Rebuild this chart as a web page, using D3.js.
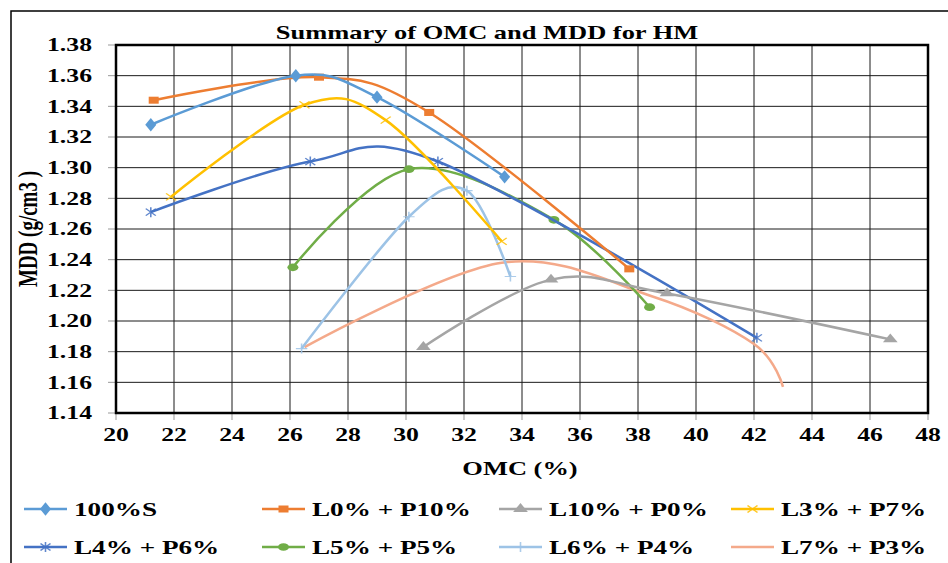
<!DOCTYPE html>
<html>
<head>
<meta charset="UTF-8">
<script src="https://cdn.jsdelivr.net/npm/d3@7/dist/d3.min.js"></script>
<style>
body{margin:0;background:#fff;}
text{font-family:"Liberation Serif","Times New Roman",serif;font-weight:bold;fill:#000;}
</style>
</head>
<body>
<script>

// values: [OMC %, MDD g/cm3]
var s100S  = [[21.2,1.328],[26.2,1.360],[29.0,1.346],[33.4,1.294]];
var sL0P10 = [[21.3,1.344],[27.0,1.359],[30.8,1.336],[37.7,1.234]];
var sL10P0 = [[30.6,1.183],[35.0,1.227],[39.0,1.218],[46.7,1.188]];
var sL3P7  = [[21.9,1.281],[26.5,1.341],[29.3,1.331],[33.3,1.252]];
var sL4P6  = [[21.2,1.271],[26.7,1.304],[31.1,1.304],[42.1,1.189]];
var sL5P5  = [[26.1,1.235],[30.1,1.299],[35.1,1.266],[38.4,1.209]];
var sL6P4  = [[26.4,1.182],[30.1,1.268],[32.1,1.285],[33.6,1.229]];
var sL7P3  = [[26.5,1.183],[33.3,1.238],[38.5,1.216],[42.0,1.185],[43.0,1.157]];

var seriesNames = ["100%S","L0% + P10%","L10% + P0%","L3% + P7%","L4% + P6%","L5% + P5%","L6% + P4%","L7% + P3%"];
var seriesData = [s100S, sL0P10, sL10P0, sL3P7, sL4P6, sL5P5, sL6P4, sL7P3];
var xTickValues = [20,22,24,26,28,30,32,34,36,38,40,42,44,46,48];
var yTickValues = [1.14,1.16,1.18,1.20,1.22,1.24,1.26,1.28,1.30,1.32,1.34,1.36,1.38];

var colors  = ["#5b9bd5","#ed7d31","#a5a5a5","#ffc000","#4472c4","#70ad47","#9dc3e6","#f4a98a"];
var markers = ["diamond","square","triangle","x","star","circle","plus","none"];

var width = 948, height = 563;
var pLeft = 116, pRight = 928, pTop = 45, pBottom = 413;
var sx = 1.43; // the picture is stretched sideways

var svg = d3.select("body").append("svg")
    .attr("width", width)
    .attr("height", height);

var x = d3.scaleLinear().domain([20, 48]).range([pLeft, pRight]);
var y = d3.scaleLinear().domain([1.14, 1.38]).range([pBottom, pTop]);

// outer chart frame
svg.append("rect")
    .attr("x", 11).attr("y", 11)
    .attr("width", 980).attr("height", 600)
    .attr("fill", "none").attr("stroke", "#000").attr("stroke-width", 1.5);

function txt(str, px, py, size, anchor, rot) {
    return svg.append("text")
        .attr("transform", "translate(" + px + "," + py + ") scale(" + sx + ",1)" + (rot ? " rotate(-90)" : ""))
        .attr("font-size", size)
        .attr("text-anchor", anchor)
        .text(str);
}

// grid
svg.append("g").selectAll("line")
    .data(xTickValues)
    .enter().append("line")
    .attr("x1", d => x(d)).attr("x2", d => x(d))
    .attr("y1", pTop).attr("y2", pBottom)
    .attr("stroke", "#1a1a1a").attr("stroke-width", 1);

svg.append("g").selectAll("line")
    .data(yTickValues)
    .enter().append("line")
    .attr("x1", pLeft).attr("x2", pRight)
    .attr("y1", d => y(d)).attr("y2", d => y(d))
    .attr("stroke", "#1a1a1a").attr("stroke-width", 1);

// tick marks
svg.append("g").selectAll("line")
    .data(yTickValues)
    .enter().append("line")
    .attr("x1", pLeft - 8).attr("x2", pLeft)
    .attr("y1", d => y(d)).attr("y2", d => y(d))
    .attr("stroke", "#999");

svg.append("g").selectAll("line")
    .data(xTickValues)
    .enter().append("line")
    .attr("x1", d => x(d)).attr("x2", d => x(d))
    .attr("y1", pBottom).attr("y2", pBottom + 7)
    .attr("stroke", "#999");

// plot frame
svg.append("rect")
    .attr("x", pLeft).attr("y", pTop)
    .attr("width", pRight - pLeft).attr("height", pBottom - pTop)
    .attr("fill", "none").attr("stroke", "#000").attr("stroke-width", 2.5);

// tick labels
yTickValues.forEach(function(v) {
    txt(d3.format(".2f")(v), 92, y(v), 18, "end").attr("dy", "0.35em");
});
xTickValues.forEach(function(v) {
    txt(v, x(v), 441, 18, "middle");
});

txt("Summary of OMC and MDD for HM", 487, 39, 18.5, "middle");
txt("OMC (%)", 520, 475, 18.5, "middle");
txt("MDD (g/cm3 )", 37, 229, 19, "middle", true);

function marker(g, type, color, px, py) {
    var tr = "translate(" + px + "," + py + ") scale(" + sx + ",1)";
    var sym = {diamond: [d3.symbolDiamond, 52], square: [d3.symbolSquare, 49],
               triangle: [d3.symbolTriangle, 46], circle: [d3.symbolCircle, 46]};
    if (sym[type]) {
        g.append("path")
            .attr("d", d3.symbol(sym[type][0], sym[type][1])())
            .attr("transform", tr)
            .attr("fill", color);
    } else if (type != "none") {
        var p = {x: "M-3.5,-3.5L3.5,3.5M-3.5,3.5L3.5,-3.5",
                 star: "M-3.5,-3.5L3.5,3.5M-3.5,3.5L3.5,-3.5M0,-5L0,5",
                 plus: "M-4,0L4,0M0,-5L0,5"}[type];
        g.append("path")
            .attr("d", p)
            .attr("transform", tr)
            .attr("fill", "none")
            .attr("stroke", color)
            .attr("stroke-width", 1.1)
            .attr("opacity", 0.85);
    }
}

var line = d3.line()
    .x(d => x(d[0]))
    .y(d => y(d[1]))
    .curve(d3.curveCardinal.tension(0));

var drawOrder = [7, 6, 5, 4, 3, 2, 1, 0];
drawOrder.forEach(function(i) {
    var g = svg.append("g");
    g.append("path")
        .attr("d", line(seriesData[i]))
        .attr("fill", "none")
        .attr("stroke", colors[i])
        .attr("stroke-width", 2.5);
    seriesData[i].forEach(function(d) {
        marker(g, markers[i], colors[i], x(d[0]), y(d[1]));
    });
});

// legend
var colX = [24, 262, 499, 731];
var rowY = [509, 547];
seriesNames.forEach(function(name, i) {
    var lx = colX[i % 4], ly = rowY[Math.floor(i / 4)];
    var g = svg.append("g");
    g.append("line")
        .attr("x1", lx).attr("x2", lx + 43)
        .attr("y1", ly).attr("y2", ly)
        .attr("stroke", colors[i]).attr("stroke-width", 2.5);
    marker(g, markers[i], colors[i], lx + 21.5, ly);
    txt(name, lx + 50, ly, 19, "start").attr("dy", "0.35em");
});

</script>
</body>
</html>
